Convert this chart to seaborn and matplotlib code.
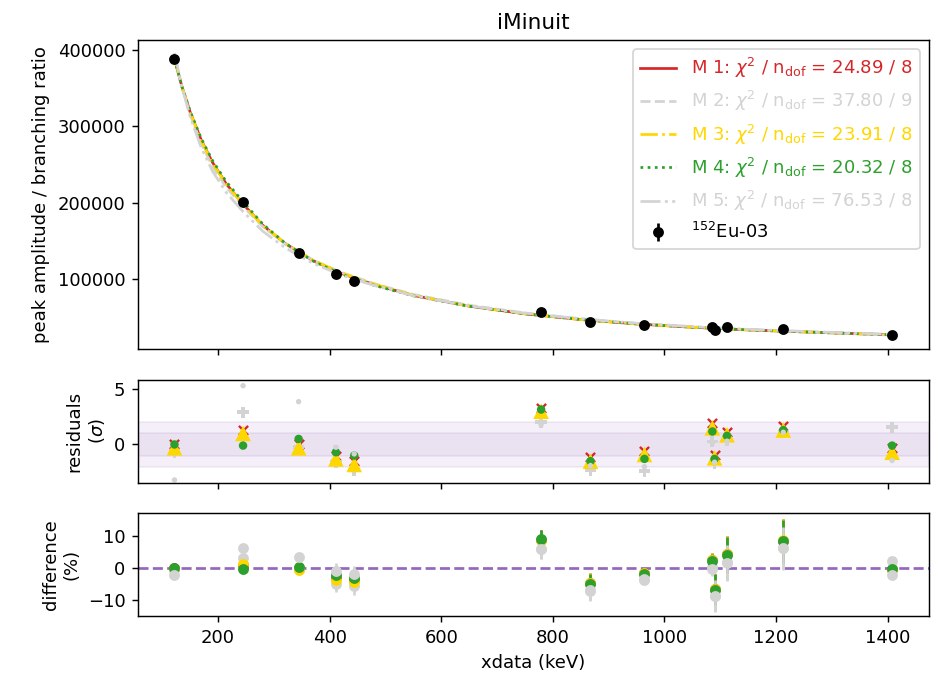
import numpy as np
import pandas as pd
import matplotlib
matplotlib.use("Agg")
import matplotlib.pyplot as plt
import seaborn as sns

# ---------------- data ----------------
energies = [121.78, 244.70, 344.28, 411.12, 443.96, 778.90, 867.38, 964.08,
            1085.84, 1089.74, 1112.08, 1212.95, 1408.01]
amplitude = [388000, 200500, 134800, 106800, 97300, 57100, 44000, 40100,
             37400, 33500, 37000, 34800, 27500]
rel_err_pct = [0.8, 1.2, 0.9, 2.6, 2.6, 3.0, 3.2, 1.2, 2.3, 4.8, 5.6, 6.8, 1.0]

curve_energy = [121.78, 135, 150, 170, 190, 215, 245, 280, 320, 370, 420, 480,
                550, 650, 750, 850, 950, 1050, 1150, 1250, 1350, 1408.01]
curve_m1 = [388000, 352200, 318300, 281600, 252600, 224200, 198000, 170500,
            146800, 124400, 107900, 92900, 78850, 64860, 54850, 47370, 41630,
            37290, 33800, 31190, 28750, 27500]
curve_m2 = [390300, 351500, 315100, 276800, 247500, 219700, 195000, 168800,
            146400, 125000, 109000, 94200, 80110, 66030, 55950, 48410, 42460,
            37960, 34210, 31190, 28460, 26950]
curve_m3 = [389200, 352200, 317700, 280800, 251800, 223800, 197400, 170500,
            147200, 125000, 108500, 93460, 79170, 64860, 54740, 47280, 41590,
            37290, 33830, 31250, 28840, 27580]
curve_m4 = [388000, 352200, 319300, 283600, 255100, 227100, 201000, 172200,
            147200, 123800, 106800, 91970, 78300, 64730, 54850, 47370, 41630,
            37290, 33800, 31190, 28750, 27500]
curve_m5 = [395800, 352200, 311900, 271700, 241200, 213000, 188100, 162800,
            141200, 120900, 105700, 91790, 78460, 65180, 55670, 48320, 42460,
            38110, 34540, 31880, 29350, 28050]

resid_m1 = [0.0, 1.35, 0.05, -1.0, -1.45, 3.3, -1.15, -0.55, 1.9, -0.95, 1.1, 1.7, -0.35]
resid_m2 = [-0.7, 2.9, -0.2, -1.6, -2.3, 2.0, -2.3, -2.4, 0.27, -1.7, 0.42, 1.1, 1.55]
resid_m3 = [-0.3, 1.0, -0.3, -1.3, -1.8, 3.0, -1.5, -0.9, 1.5, -1.2, 0.87, 1.3, -0.7]
resid_m4 = [0.0, -0.1, 0.5, -0.7, -1.0, 3.15, -1.5, -1.3, 1.17, -1.3, 0.78, 1.3, -0.1]
resid_m5 = [-3.2, 5.3, 3.86, -0.25, -0.85, 1.8, -1.9, -2.0, 0.1, -1.6, 0.3, 1.1, -1.44]

diff_m1 = [0.2, 1.2, 0.2, -3.0, -3.6, 9.0, -4.6, -1.5, 2.6, -6.5, 4.5, 8.7, -0.2]
diff_m2 = [-0.5, 3.3, -0.3, -4.8, -5.6, 6.0, -7.1, -3.5, 0.5, -8.7, 1.9, 6.5, 2.2]
diff_m3 = [-0.3, 1.5, -0.6, -3.7, -4.3, 8.8, -4.5, -1.4, 2.5, -6.4, 4.5, 8.8, -0.5]
diff_m4 = [0.0, -0.3, 0.4, -2.2, -2.9, 9.1, -4.8, -1.7, 2.2, -6.6, 4.3, 8.5, -0.1]
diff_m5 = [-2.2, 6.5, 3.5, -0.8, -1.9, 6.1, -6.8, -3.2, -0.1, -8.5, 1.7, 6.3, -2.2]

model_names = ["M 1", "M 2", "M 3", "M 4", "M 5"]
chi2 = ["24.89", "37.80", "23.91", "20.32", "76.53"]
ndof = [8, 9, 8, 8, 8]
data_label = r"$^{152}$Eu-03"

# ---------------- styles ----------------
colors = ["tab:red", "lightgray", "gold", "tab:green", "lightgray"]
linestyles = ["-", "--", "-.", ":", (0, (7.4, 1.6, 1.1, 1.6, 1.1, 1.6))]
res_markers = ["x", "P", "^", "o", "o"]
res_sizes = [26, 40, 75, 22, 9]

curves = [curve_m1, curve_m2, curve_m3, curve_m4, curve_m5]
resids = [resid_m1, resid_m2, resid_m3, resid_m4, resid_m5]
diffs = [diff_m1, diff_m2, diff_m3, diff_m4, diff_m5]

dpi = 130
fig = plt.figure(figsize=(934 / dpi, 680 / dpi), dpi=dpi)
gs = fig.add_gridspec(3, 1, height_ratios=[3, 1, 1], left=0.1478, right=0.9946,
                      top=0.9412, bottom=0.0941, hspace=0.175)
ax0 = fig.add_subplot(gs[0])
ax1 = fig.add_subplot(gs[1], sharex=ax0)
ax2 = fig.add_subplot(gs[2], sharex=ax0)

# top panel
for name, c2, nd, cur, col, ls in zip(model_names, chi2, ndof, curves, colors, linestyles):
    lab = name + r": $\chi^2$ / n$_\mathrm{dof}$ = " + f"{c2} / {nd}"
    sns.lineplot(x=curve_energy, y=cur, ax=ax0, color=col, linestyle=ls,
                 linewidth=1.5, label=lab, sort=True)
amp = np.array(amplitude, dtype=float)
amp_err = amp * np.array(rel_err_pct) / 100.0
ax0.errorbar(energies, amp, yerr=amp_err, fmt="o", color="black", ms=5,
             lw=1.5, label=data_label, zorder=3)
leg = ax0.legend(loc="upper right")
for txt, col in zip(leg.get_texts(), colors + ["black"]):
    txt.set_color(col)
ax0.set_ylabel("peak amplitude / branching ratio")
ax0.set_title("iMinuit")
ax0.set_ylim(8200, 412700)
ax0.tick_params(labelbottom=False)

# residual panel
ax1.axhspan(-2, 2, color="tab:purple", alpha=0.1, zorder=1)
ax1.axhspan(-1, 1, color="tab:purple", alpha=0.1, zorder=1)
for r, col, mk, sz in zip(resids, colors, res_markers, res_sizes):
    if mk == "x":
        sns.scatterplot(x=energies, y=r, ax=ax1, marker=mk, color=col, s=sz,
                        linewidth=1.3, zorder=2)
    else:
        sns.scatterplot(x=energies, y=r, ax=ax1, marker=mk, color=col, s=sz,
                        linewidth=0, edgecolor="none", zorder=2)
ax1.set_ylim(-3.45, 5.85)
ax1.set_yticks([0, 5])
ax1.set_ylabel("residuals\n($\\sigma$)")
ax1.tick_params(labelbottom=False)

# difference panel
ax2.axhline(0, color="tab:purple", linestyle="--", linewidth=1.5)
for d, col in zip(diffs, colors):
    ax2.errorbar(energies, d, yerr=rel_err_pct, fmt="o", color=col, ms=5, lw=1.5)
ax2.set_ylim(-14.9, 17.4)
ax2.set_yticks([-10, 0, 10])
ax2.set_ylabel("difference\n(%)")
ax2.set_xlabel("xdata (keV)")
ax2.set_xlim(56.5, 1474)

fig.savefig("out.png", dpi=dpi)
